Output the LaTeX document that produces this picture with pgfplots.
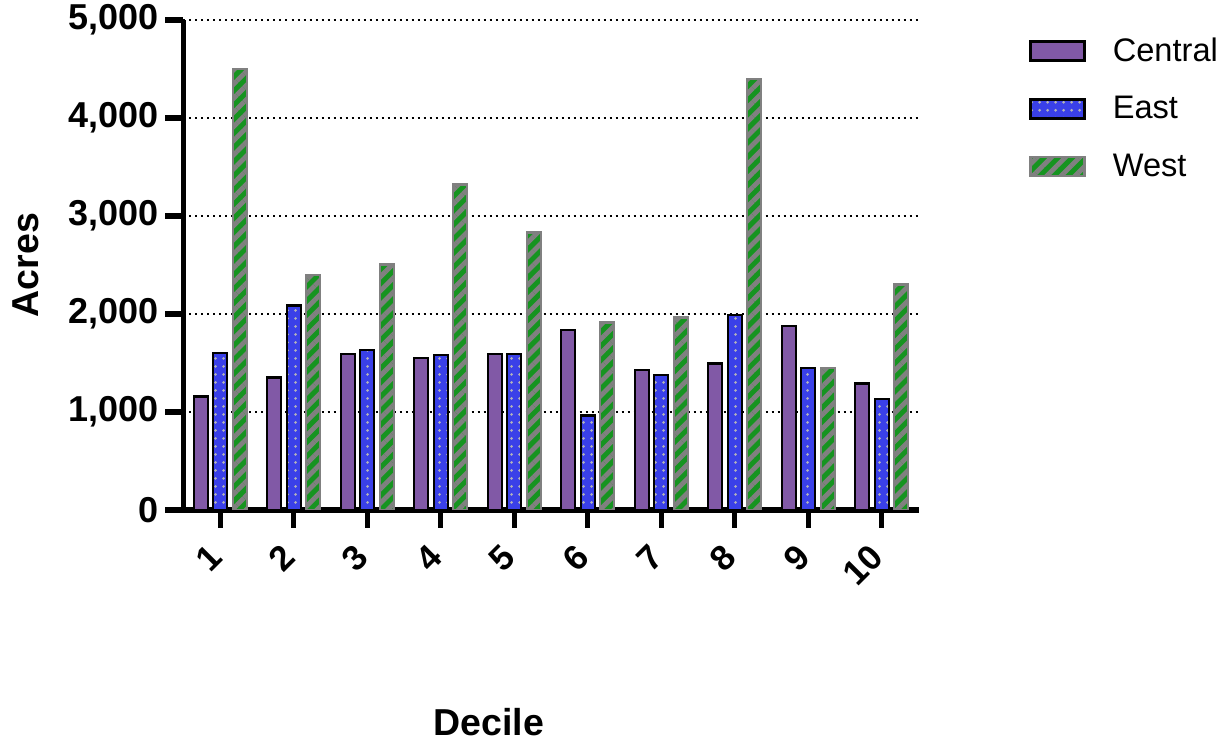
\documentclass[border=0pt]{standalone}
\usepackage{fontspec}
\setmainfont{Liberation Sans}
\usepackage{pgfplots}
\pgfplotsset{compat=1.18}
\usetikzlibrary{patterns.meta}
\definecolor{cpurple}{RGB}{129,89,166}
\definecolor{cblue}{RGB}{58,64,232}
\definecolor{cgreen}{RGB}{22,148,32}
\definecolor{cgray}{RGB}{128,128,128}
\definecolor{cdot}{RGB}{180,180,185}
\begin{document}
\begin{tikzpicture}
\path[use as bounding box] (-91.75pt,-116pt) rectangle (523.25pt,255pt);
\begin{axis}[
  at={(0pt,0pt)}, anchor=south west,
  scale only axis, width=367.5pt, height=245pt,
  xmin=0.5, xmax=10.5, ymin=0, ymax=5000,
  axis lines=left,
  axis line style={-, line width=2.6pt, black},
  tick align=outside,
  major tick length=9pt,
  tick style={line width=2.6pt, black},
  xtick={1,2,3,4,5,6,7,8,9,10},
  ytick={0,1000,2000,3000,4000,5000},
  scaled y ticks=false,
  /pgf/number format/assume math mode=true,
  /pgf/number format/1000 sep={,},
  yticklabel style={font=\bfseries\fontsize{18}{18}\selectfont},
  xticklabel shift=9pt,
  xticklabel style={font=\bfseries\fontsize{17.5}{17.5}\selectfont, rotate=45, anchor=east},
  ymajorgrids,
  grid style={line width=1pt, dash pattern=on 1pt off 2pt, black},
  xlabel={Decile},
  ylabel={Acres},
  label style={font=\bfseries\fontsize{18.75}{18.75}\selectfont},
  xlabel style={at={(axis description cs:0.4157,-0.4327)}, anchor=center},
  ylabel style={at={(axis description cs:-0.2143,0.5)}, anchor=center},
  ybar, bar width=7pt,
  legend style={at={(axis description cs:1.1422,0.981)}, anchor=north west, draw=none, fill=none,
    font=\fontsize{16.3}{16.3}\selectfont, row sep=12pt,
    /tikz/every odd column/.append style={column sep=11.5pt}},
  legend cell align=left,
  legend image code/.code={\draw[#1] (0pt,-4.75pt) rectangle (27pt,4.75pt);},
]
\addplot[fill=cpurple, draw=black, line width=1.2pt, bar shift=-9.75pt] coordinates {
(1,1160) (2,1350) (3,1590) (4,1550) (5,1590) (6,1835) (7,1430) (8,1495) (9,1880) (10,1290)};
\addplot[fill=cblue, draw=black, line width=1.2pt, bar shift=0pt,
  postaction={pattern={Dots[radius=0.8pt, distance=4pt]}, pattern color=cdot}] coordinates {
(1,1600) (2,2085) (3,1630) (4,1580) (5,1590) (6,965) (7,1378) (8,1990) (9,1446) (10,1135)};
\addplot[fill=cgreen, draw=cgray, line width=1.2pt, bar shift=9.75pt,
  postaction={pattern={Lines[angle=45, distance=5pt, line width=2.4pt]}, pattern color=cgray}] coordinates {
(1,4500) (2,2400) (3,2505) (4,3320) (5,2830) (6,1915) (7,1965) (8,4395) (9,1446) (10,2300)};
\legend{Central, East, West}
\end{axis}
\end{tikzpicture}
\end{document}
